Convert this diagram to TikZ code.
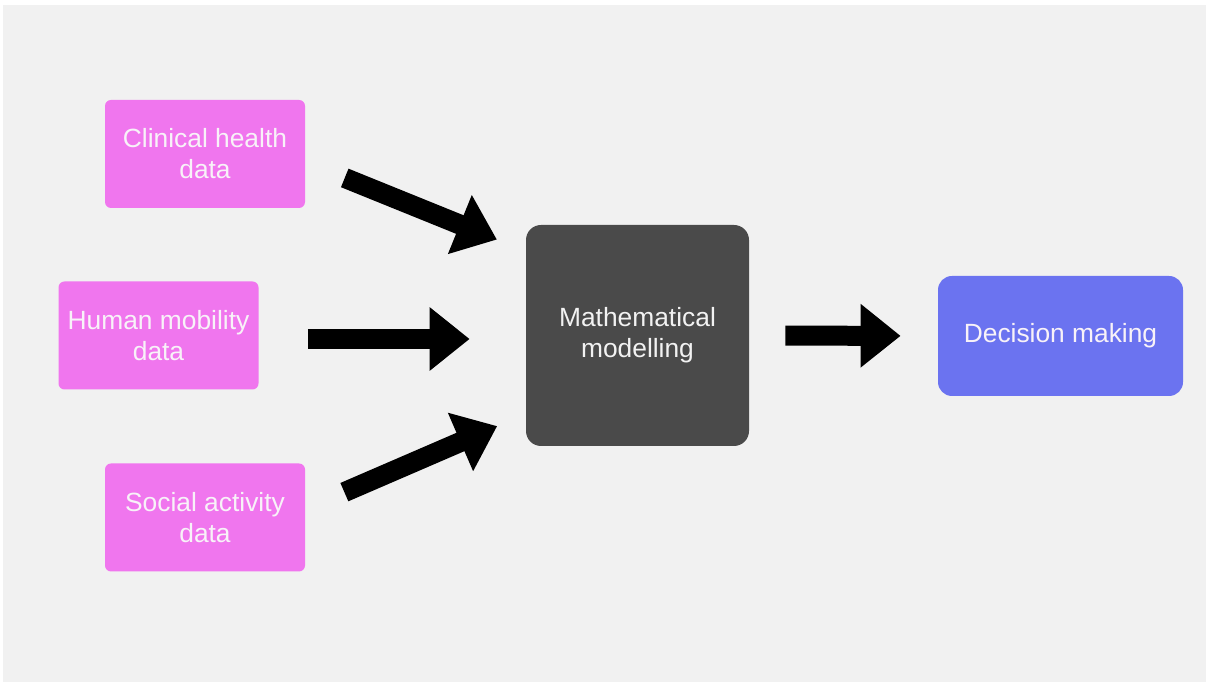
\documentclass[tikz,border=0pt]{standalone}
\usepackage{fontspec}
\setmainfont{Liberation Sans}
\usepackage{tikz}
\usetikzlibrary{arrows.meta}
\definecolor{bgray}{RGB}{241, 241, 241}
\definecolor{datapink}{RGB}{240, 118, 238}
\definecolor{modelgray}{RGB}{74, 74, 74}
\definecolor{decblue}{RGB}{107, 115, 240}
\definecolor{softwhite}{RGB}{248, 242, 248}

\begin{document}
\begin{tikzpicture}[
  databox/.style={fill=datapink, rounded corners=0.12cm, inner sep=0pt,
                  minimum width=4cm, minimum height=2.16cm, align=center,
                  text=softwhite, font=\fontsize{15}{17.6}\selectfont},
  fatarrow/.style={line width=0.4cm, black,
                   -{Triangle[length=0.8cm, width=1.22cm]}},
]
% Background
\useasboundingbox (0, 0) rectangle (24.12, 13.66);
\fill[bgray] (0.06, 0.02) rectangle (24.12, 13.56);

% Data sources
\node[databox] (clin) at (4.1, 10.58) {Clinical health\\data};
\node[databox] (hum) at (3.17, 6.95) {Human mobility\\data};
\node[databox] (soc) at (4.1, 3.31) {Social activity\\data};

% Model and decision
\node[fill=modelgray, rounded corners=0.3cm, inner sep=0pt, minimum width=4.46cm,
      minimum height=4.42cm, align=center, text=white!90!gray,
      font=\fontsize{15}{17.6}\selectfont] (math) at (12.75, 6.95) {Mathematical\\modelling};
\node[fill=decblue, rounded corners=0.28cm, inner sep=0pt, minimum width=4.9cm,
      minimum height=2.4cm, align=center, text=softwhite,
      font=\fontsize{15}{17.6}\selectfont] (dec) at (21.21, 6.94) {Decision making};

% Arrows
\draw[fatarrow, shorten <=0.85cm, shorten >=0.62cm] ([yshift=-0.16cm]clin.east) -- (math.143);
\draw[fatarrow, shorten <=0.98cm, shorten >=1.12cm] ([yshift=-0.07cm]hum.east) -- ([yshift=-0.07cm]math.west);
\draw[fatarrow, shorten <=0.85cm, shorten >=0.62cm] ([yshift=0.17cm]soc.east) -- (math.215);
\draw[fatarrow, shorten <=0.72cm, shorten >=0.74cm] (math.east) -- (dec.west);
\end{tikzpicture}
\end{document}
